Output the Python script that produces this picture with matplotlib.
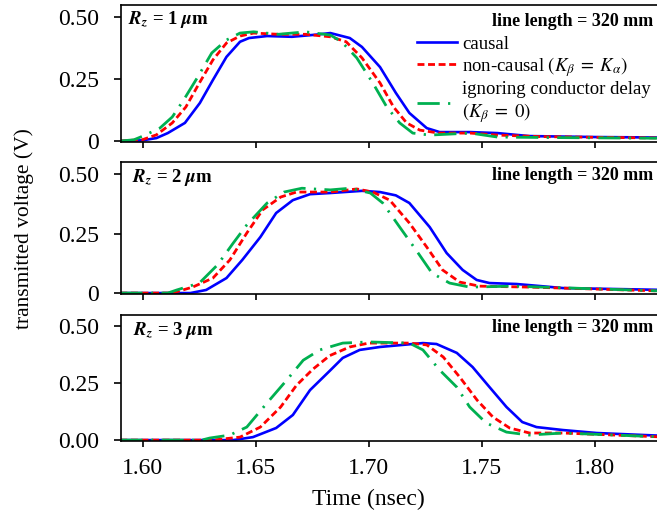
import matplotlib
matplotlib.use("Agg")
import matplotlib.pyplot as plt

plt.rcParams['font.family'] = ['Liberation Serif', 'DejaVu Serif']
plt.rcParams['mathtext.fontset'] = 'stix'

# --- data (time in nsec, voltage in V) ---
# Rz = 1 um
blue_t1 = [1.590, 1.600, 1.606, 1.611, 1.6186, 1.6252, 1.631, 1.637, 1.643, 1.647, 1.655, 1.666, 1.676, 1.683,
           1.6916, 1.697, 1.705, 1.712, 1.718, 1.7257, 1.7314, 1.745, 1.757, 1.771, 1.801, 1.832]
blue_v1 = [0.0, 0.003, 0.012, 0.032, 0.073, 0.153, 0.246, 0.339, 0.40, 0.415, 0.423, 0.42, 0.428, 0.435,
           0.415, 0.379, 0.298, 0.194, 0.113, 0.052, 0.036, 0.036, 0.032, 0.02, 0.016, 0.014]
red_t1 = [1.590, 1.600, 1.606, 1.613, 1.619, 1.625, 1.631, 1.637, 1.643, 1.649, 1.660, 1.672, 1.683, 1.690,
          1.697, 1.705, 1.711, 1.7168, 1.7226, 1.731, 1.745, 1.757, 1.775, 1.80, 1.832]
red_v1 = [0.0, 0.006, 0.025, 0.073, 0.137, 0.234, 0.327, 0.395, 0.423, 0.435, 0.43, 0.43, 0.42, 0.40,
          0.335, 0.234, 0.137, 0.073, 0.044, 0.032, 0.032, 0.024, 0.018, 0.015, 0.012]
green_t1 = [1.590, 1.596, 1.600, 1.6075, 1.613, 1.618, 1.624, 1.6305, 1.637, 1.643, 1.649, 1.660, 1.672, 1.683,
            1.688, 1.6947, 1.7018, 1.708, 1.7137, 1.7195, 1.727, 1.745, 1.757, 1.78, 1.832]
green_v1 = [0.0, 0.005, 0.02, 0.052, 0.097, 0.165, 0.254, 0.355, 0.407, 0.435, 0.44, 0.43, 0.44, 0.427,
            0.40, 0.335, 0.234, 0.137, 0.073, 0.032, 0.024, 0.032, 0.016, 0.014, 0.011]

# Rz = 2 um
blue_t2 = [1.590, 1.621, 1.628, 1.637, 1.644, 1.652, 1.659, 1.6664, 1.674, 1.683, 1.697, 1.705, 1.712, 1.718,
           1.727, 1.7345, 1.7416, 1.7478, 1.7535, 1.7655, 1.786, 1.832]
blue_v2 = [0.0, 0.0, 0.013, 0.063, 0.139, 0.235, 0.336, 0.39, 0.415, 0.42, 0.429, 0.424, 0.41, 0.378,
           0.277, 0.168, 0.097, 0.055, 0.042, 0.038, 0.021, 0.013]
red_t2 = [1.590, 1.613, 1.622, 1.631, 1.6385, 1.646, 1.653, 1.661, 1.668, 1.683, 1.6947, 1.7018, 1.7093, 1.718,
          1.7257, 1.7327, 1.7403, 1.749, 1.771, 1.832]
red_v2 = [0.0, 0.0, 0.025, 0.063, 0.139, 0.252, 0.349, 0.403, 0.424, 0.424, 0.437, 0.424, 0.39, 0.294,
          0.193, 0.097, 0.046, 0.029, 0.025, 0.008]
green_t2 = [1.590, 1.611, 1.615, 1.625, 1.633, 1.640, 1.646, 1.655, 1.6625, 1.6704, 1.683, 1.6916, 1.7007,
            1.7062, 1.7137, 1.721, 1.728, 1.7358, 1.7447, 1.7637, 1.832]
green_v2 = [0.0, 0.0, 0.013, 0.042, 0.118, 0.21, 0.286, 0.378, 0.424, 0.44, 0.433, 0.44, 0.42,
            0.378, 0.277, 0.18, 0.084, 0.042, 0.025, 0.029, 0.008]

# Rz = 3 um
blue_t3 = [1.590, 1.640, 1.6487, 1.659, 1.6664, 1.674, 1.6827, 1.6885, 1.696, 1.705, 1.715, 1.724, 1.730,
           1.739, 1.746, 1.7535, 1.761, 1.768, 1.7743, 1.786, 1.801, 1.832]
blue_v3 = [0.0, 0.0, 0.013, 0.053, 0.11, 0.219, 0.303, 0.36, 0.395, 0.408, 0.417, 0.425, 0.421,
           0.382, 0.32, 0.232, 0.145, 0.079, 0.057, 0.044, 0.031, 0.018]
red_t3 = [1.590, 1.631, 1.643, 1.652, 1.661, 1.668, 1.6752, 1.6827, 1.6916, 1.700, 1.718, 1.7257, 1.733,
          1.7403, 1.748, 1.755, 1.7624, 1.7712, 1.786, 1.832]
red_v3 = [0.0, 0.0, 0.013, 0.057, 0.145, 0.24, 0.31, 0.37, 0.408, 0.425, 0.425, 0.417, 0.364,
          0.276, 0.175, 0.101, 0.053, 0.031, 0.031, 0.013]
green_t3 = [1.590, 1.626, 1.6296, 1.6385, 1.646, 1.6549, 1.6637, 1.671, 1.6783, 1.6827, 1.6885, 1.700, 1.718,
            1.724, 1.7314, 1.739, 1.7447, 1.752, 1.761, 1.771, 1.786, 1.832]
green_v3 = [0.0, 0.0, 0.009, 0.022, 0.057, 0.162, 0.263, 0.35, 0.395, 0.408, 0.425, 0.43, 0.425,
            0.395, 0.307, 0.232, 0.145, 0.075, 0.035, 0.022, 0.031, 0.013]

x_ticks = [1.60, 1.65, 1.70, 1.75, 1.80]
x_ticklabels = ['1.60', '1.65', '1.70', '1.75', '1.80']
y_ticks = [0.0, 0.25, 0.50]
rz_labels = [r'$\mathbfit{R_z}$ = 1 $\mathbfit{\mu}$m',
             r'$\mathbfit{R_z}$ = 2 $\mathbfit{\mu}$m',
             r'$\mathbfit{R_z}$ = 3 $\mathbfit{\mu}$m']
series_labels = ['causal', r'non-causal $\left(K_\beta\;=\;K_\alpha\right)$',
                 'ignoring conductor delay\n' + r'$\left(K_\beta\;=\;0\right)$']

panels = [
    (blue_t1, blue_v1, red_t1, red_v1, green_t1, green_v1),
    (blue_t2, blue_v2, red_t2, red_v2, green_t2, green_v2),
    (blue_t3, blue_v3, red_t3, red_v3, green_t3, green_v3),
]

fig = plt.figure(figsize=(6.57, 5.17), dpi=100)

# axes rectangles (figure fraction); right edge sits just outside the image
rects = [[0.1849, 0.7253, 0.8300, 0.2650],
         [0.1849, 0.4313, 0.8300, 0.2553],
         [0.1849, 0.1470, 0.8300, 0.2437]]
ylims = [(-0.004, 0.548), (-0.004, 0.550), (-0.004, 0.548)]
rz_pos = [(0.012, 0.895), (0.019, 0.88), (0.021, 0.873)]
len_pos = [0.883, 0.90, 0.897]

axes = []
for i, (bt, bv, rt, rv, gt, gv) in enumerate(panels):
    ax = fig.add_axes(rects[i])
    ax.plot(bt, bv, color='#0000FF', lw=1.9, label=series_labels[0])
    ax.plot(rt, rv, color='#FF0000', lw=2.0, dashes=(2.5, 1.3), label=series_labels[1])
    ax.plot(gt, gv, color='#00B050', lw=2.0, dashes=(8, 3, 0.8, 3), label=series_labels[2])
    ax.set_xlim(1.5905, 1.8320)
    ax.set_ylim(*ylims[i])
    ax.set_xticks(x_ticks)
    ax.set_yticks(y_ticks)
    if i == 2:
        ax.set_xticklabels(x_ticklabels)
        ax.set_yticklabels(['0.00', '0.25', '0.50'])
    else:
        ax.set_xticklabels([])
        ax.set_yticklabels(['0', '0.25', '0.50'])
    ax.tick_params(axis='both', direction='out', labelsize=17, width=1.2)
    ax.tick_params(axis='y', length=5, pad=11)
    ax.tick_params(axis='x', length=4, pad=8)
    for sp in ax.spines.values():
        sp.set_linewidth(1.2)
    ax.text(rz_pos[i][0], rz_pos[i][1], rz_labels[i], transform=ax.transAxes,
            fontsize=13.5, fontweight='bold', ha='left', va='center')
    ax.text(0.976, len_pos[i], 'line length = 320 mm', transform=ax.transAxes,
            fontsize=13, fontweight='bold', ha='right', va='center')
    axes.append(ax)

axes[0].legend(loc='upper left', bbox_to_anchor=(0.5425, 0.775), frameon=False,
               fontsize=13.5, handlelength=2.1, handletextpad=0.3, borderpad=0,
               borderaxespad=0, labelspacing=0.1)

fig.text(0.036, 0.557, 'transmitted voltage (V)', rotation=90, fontsize=15.5,
         ha='center', va='center')
fig.text(0.56, 0.033, 'Time (nsec)', fontsize=17, ha='center', va='center')

fig.savefig('out.png', dpi=100)
